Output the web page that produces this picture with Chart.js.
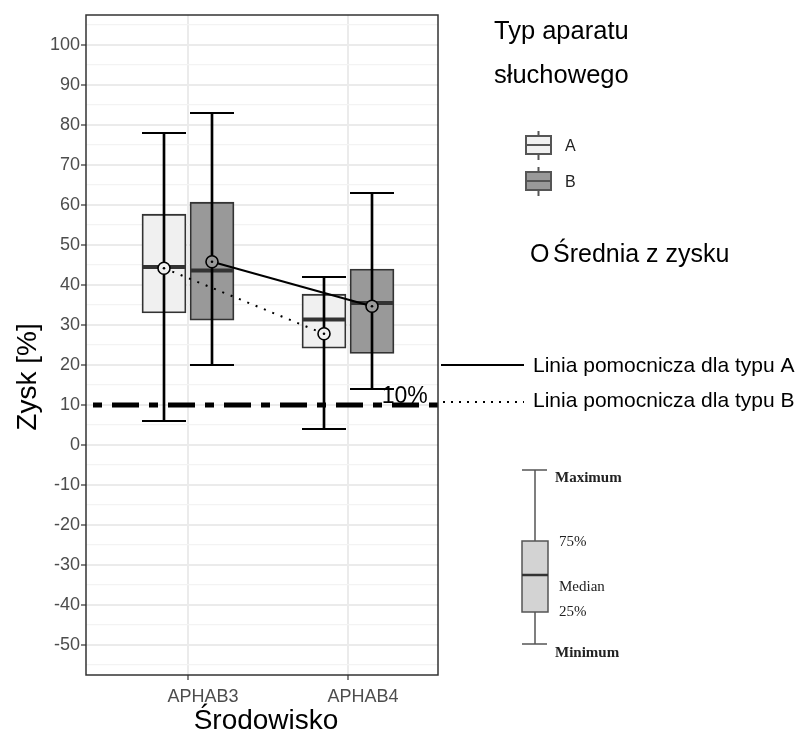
<!DOCTYPE html>
<html>
<head>
<meta charset="utf-8">
<script src="https://cdn.jsdelivr.net/npm/chart.js@4/dist/chart.umd.min.js"></script>
<style>
  html, body { margin: 0; padding: 0; background: #fff; }
  #wrap { width: 795px; height: 731px; }
</style>
</head>
<body>
<div id="wrap"><canvas id="chart" width="795" height="731"></canvas></div>
<script>
// data
const categories = ['APHAB3', 'APHAB4'];

const minA = [6, 4];
const q1A = [33, 24.2];
const medA = [44.5, 31.4];
const q3A = [57.7, 37.7];
const maxA = [78, 42];
const meanA = [44.2, 27.8];

const minB = [20, 14];
const q1B = [31.2, 22.9];
const medB = [43.6, 35.5];
const q3B = [60.7, 44];
const maxB = [83, 63];
const meanB = [45.8, 34.7];

const refValue = 10;
const refLabel = '10%';
const yTicks = [-55, -50, -45, -40, -35, -30, -25, -20, -15, -10, -5, 0, 5, 10, 15, 20, 25,
                30, 35, 40, 45, 50, 55, 60, 65, 70, 75, 80, 85, 90, 95, 100, 105];

const dodge = 0.15;
const fillA = '#F0F0F0';
const fillB = '#999999';
const sans = '"Liberation Sans", Arial, sans-serif';
const serif = '"Liberation Serif", "Times New Roman", serif';

function pts(vals, off) {
    return vals.map((v, i) => ({ x: i + 1 + off, y: v }));
}
function spans(lo, hi, off) {
    return lo.map((v, i) => ({ x: i + 1 + off, y: [v, hi[i]] }));
}

const extras = {
    id: 'extras',
    afterDatasetsDraw(chart) {
        const ctx = chart.ctx;
        const x = chart.scales.x, y = chart.scales.y;
        const a = chart.chartArea;
        // reference line
        const yr = y.getPixelForValue(refValue);
        ctx.save();
        ctx.strokeStyle = '#000';
        ctx.lineWidth = 5;
        ctx.setLineDash([27, 10, 9, 10]);
        ctx.lineDashOffset = 30;
        ctx.beginPath();
        ctx.moveTo(a.left, yr);
        ctx.lineTo(a.right + 3, yr);
        ctx.stroke();
        ctx.setLineDash([]);
        ctx.fillStyle = '#000';
        ctx.font = '23px ' + sans;
        ctx.textAlign = 'center';
        ctx.textBaseline = 'alphabetic';
        ctx.fillText(refLabel, x.getPixelForValue(2.355), y.getPixelForValue(refValue + 0.5));
        ctx.restore();
    },
    afterDraw(chart) {
        const ctx = chart.ctx;
        const a = chart.chartArea;
        ctx.save();
        // panel border
        ctx.strokeStyle = '#333';
        ctx.lineWidth = 1.5;
        ctx.strokeRect(a.left, a.top, a.right - a.left, a.bottom - a.top);

        // axis titles
        ctx.fillStyle = '#000';
        ctx.font = '28px ' + sans;
        ctx.textAlign = 'center';
        ctx.textBaseline = 'alphabetic';
        ctx.fillText('Środowisko', 266, 729);
        ctx.save();
        ctx.translate(28, 377);
        ctx.rotate(-Math.PI / 2);
        ctx.textBaseline = 'middle';
        ctx.fillText('Zysk [%]', 0, 0);
        ctx.restore();

        // legend title
        ctx.textAlign = 'left';
        ctx.font = '25.5px ' + sans;
        ctx.fillText('Typ aparatu', 494, 39);
        ctx.fillText('słuchowego', 494, 83);

        // legend keys
        const keys = [['A', fillA, 145], ['B', fillB, 181]];
        keys.forEach(([lab, fill, cy]) => {
            ctx.strokeStyle = '#555';
            ctx.lineWidth = 2;
            ctx.beginPath();
            ctx.moveTo(538.5, cy - 14); ctx.lineTo(538.5, cy + 15);
            ctx.stroke();
            ctx.fillStyle = fill;
            ctx.fillRect(526, cy - 9, 25, 18);
            ctx.strokeRect(526, cy - 9, 25, 18);
            ctx.beginPath();
            ctx.moveTo(526, cy); ctx.lineTo(551, cy);
            ctx.stroke();
            ctx.fillStyle = '#222';
            ctx.font = '16px ' + sans;
            ctx.textBaseline = 'middle';
            ctx.fillText(lab, 565, cy + 1.5);
        });

        ctx.fillStyle = '#000';
        ctx.textBaseline = 'alphabetic';
        ctx.font = '25px ' + sans;
        ctx.fillText('O', 530, 262);
        ctx.fillText('Średnia z zysku', 553, 262);

        // helper lines legend
        ctx.strokeStyle = '#000';
        ctx.lineWidth = 2;
        ctx.beginPath();
        ctx.moveTo(441, 365); ctx.lineTo(524, 365);
        ctx.stroke();
        ctx.setLineDash([2, 6]);
        ctx.beginPath();
        ctx.moveTo(443, 402); ctx.lineTo(524, 402);
        ctx.stroke();
        ctx.setLineDash([]);
        ctx.font = '21px ' + sans;
        ctx.fillText('Linia pomocnicza dla typu A', 533, 372);
        ctx.fillText('Linia pomocnicza dla typu B', 533, 407);

        // box plot explanation
        ctx.strokeStyle = '#555';
        ctx.lineWidth = 1.5;
        ctx.beginPath();
        ctx.moveTo(535, 470); ctx.lineTo(535, 644);
        ctx.moveTo(522, 470); ctx.lineTo(547, 470);
        ctx.moveTo(522, 644); ctx.lineTo(547, 644);
        ctx.stroke();
        ctx.fillStyle = '#D3D3D3';
        ctx.fillRect(522, 541, 26, 71);
        ctx.strokeRect(522, 541, 26, 71);
        ctx.lineWidth = 2.5;
        ctx.strokeStyle = '#333';
        ctx.beginPath();
        ctx.moveTo(522, 575); ctx.lineTo(548, 575);
        ctx.stroke();
        ctx.fillStyle = '#222';
        ctx.textBaseline = 'middle';
        ctx.font = 'bold 15px ' + serif;
        ctx.fillText('Maximum', 555, 478);
        ctx.fillText('Minimum', 555, 653);
        ctx.font = '15px ' + serif;
        ctx.fillText('75%', 559, 542);
        ctx.fillText('Median', 559, 587);
        ctx.fillText('25%', 559, 612);
        ctx.restore();
    }
};

const capStyle = { type: 'scatter', pointStyle: 'line', pointRadius: 22, pointBorderWidth: 2,
                   pointBorderColor: '#000', showLine: false, order: 3 };

new Chart(document.getElementById('chart'), {
    type: 'bar',
    data: {
        datasets: [{
            label: 'A',
            data: spans(q1A, q3A, -dodge),
            backgroundColor: fillA,
            borderColor: '#333',
            borderWidth: 1.8,
            borderSkipped: false,
            barThickness: 44,
            grouped: false,
            order: 6
        }, {
            label: 'B',
            data: spans(q1B, q3B, dodge),
            backgroundColor: fillB,
            borderColor: '#333',
            borderWidth: 1.8,
            borderSkipped: false,
            barThickness: 44,
            grouped: false,
            order: 6
        }, {
            type: 'scatter',
            data: pts(medA, -dodge).concat(pts(medB, dodge)),
            pointStyle: 'line',
            pointRadius: 21,
            pointBorderWidth: 4,
            pointBorderColor: '#333',
            order: 5
        }, {
            label: 'whiskers',
            data: spans(minA, maxA, -dodge).concat(spans(minB, maxB, dodge)),
            backgroundColor: '#000',
            borderWidth: 0,
            barThickness: 2,
            grouped: false,
            order: 4
        },
        Object.assign({ data: pts(minA, -dodge).concat(pts(maxA, -dodge)) }, capStyle),
        Object.assign({ data: pts(minB, dodge).concat(pts(maxB, dodge)) }, capStyle),
        {
            type: 'line',
            label: 'Średnia A',
            data: pts(meanA, -dodge),
            borderColor: '#000',
            borderWidth: 2,
            borderDash: [2, 7],
            pointRadius: 6,
            pointBackgroundColor: fillA,
            pointBorderColor: '#000',
            pointBorderWidth: 1.6,
            order: 2
        }, {
            type: 'line',
            label: 'Średnia B',
            data: pts(meanB, dodge),
            borderColor: '#000',
            borderWidth: 2,
            pointRadius: 6,
            pointBackgroundColor: fillB,
            pointBorderColor: '#000',
            pointBorderWidth: 1.6,
            order: 2
        }, {
            type: 'scatter',
            data: pts(meanA, -dodge).concat(pts(meanB, dodge)),
            pointRadius: 1.3,
            pointBackgroundColor: '#000',
            pointBorderWidth: 0,
            order: 1
        }]
    },
    options: {
        responsive: false,
        animation: false,
        events: [],
        layout: { autoPadding: false, padding: { left: 0, top: 15, right: 357, bottom: 0 } },
        plugins: { legend: { display: false }, tooltip: { enabled: false } },
        scales: {
            x: {
                type: 'linear',
                min: 0.3625,
                max: 2.5625,
                offset: false,
                afterBuildTicks: s => { s.ticks = categories.map((c, i) => ({ value: i + 1 })); },
                afterFit: s => { s.height = 56; s.paddingLeft = 0; s.paddingRight = 0; },
                grid: { offset: false, color: '#EBEBEB', lineWidth: 2, tickColor: '#333',
                        tickLength: 5, tickWidth: 1.2 },
                border: { display: false },
                ticks: {
                    autoSkip: false,
                    maxRotation: 0,
                    labelOffset: 15,
                    padding: 6,
                    color: '#4D4D4D',
                    font: { family: sans, size: 18 },
                    callback: v => categories[v - 1]
                }
            },
            y: {
                type: 'linear',
                min: -57.5,
                max: 107.5,
                afterBuildTicks: s => { s.ticks = yTicks.map(v => ({ value: v })); },
                afterFit: s => { s.width = 86; s.paddingTop = 0; s.paddingBottom = 0; },
                grid: {
                    color: c => (c.tick && c.tick.value % 10 === 0) ? '#EBEBEB' : '#F3F3F3',
                    lineWidth: c => (c.tick && c.tick.value % 10 === 0) ? 2 : 1.2,
                    tickColor: c => (c.tick && c.tick.value % 10 === 0) ? '#333' : 'rgba(0,0,0,0)',
                    tickLength: 5,
                    tickWidth: 1.2
                },
                border: { display: false },
                ticks: {
                    autoSkip: false,
                    padding: 1,
                    color: '#4D4D4D',
                    font: { family: sans, size: 18 },
                    callback: v => (v % 10 === 0 ? String(v) : '')
                }
            }
        }
    },
    plugins: [extras]
});
</script>
</body>
</html>
